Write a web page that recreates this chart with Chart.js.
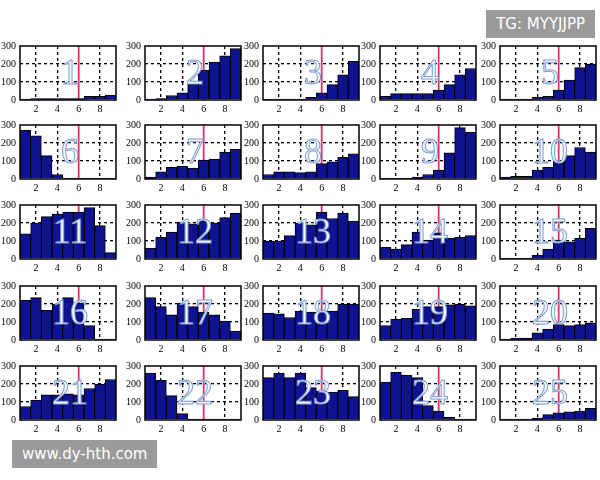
<!DOCTYPE html>
<html><head><meta charset="utf-8">
<script src="https://cdn.jsdelivr.net/npm/chart.js@4"></script>
<style>
body{margin:0;width:600px;height:480px;background:#fff;position:relative;overflow:hidden}
.c{position:absolute}
.num{position:absolute;font-family:'Liberation Serif','DejaVu Serif',serif;font-size:36px;color:#f4f8ff;-webkit-text-stroke:1px #7f9ccf;pointer-events:none;text-align:center;width:90px;line-height:40px}
.wm{position:absolute;background:#9a9a9a;color:#fff;font-family:"DejaVu Sans",sans-serif;font-size:15px;line-height:28px;padding:0 10px}
</style></head><body>
<script>
const labels = ['1','2','3','4','5','6','7','8','9'];
const series = [
  [5,8,8,8,8,8,20,20,28],
  [5,8,25,40,90,165,210,245,285],
  [3,5,5,5,15,40,85,140,215],
  [20,35,35,35,35,55,85,140,175],
  [5,5,5,15,20,55,110,180,200],
  [270,240,130,25,5,5,5,5,5],
  [10,40,65,70,60,105,110,150,165],
  [25,40,40,35,40,85,95,120,140],
  [5,5,5,10,25,50,145,285,260],
  [10,15,15,50,65,100,130,175,150],
  [140,200,235,250,260,260,285,185,35],
  [60,120,150,205,195,210,200,230,255],
  [100,100,130,200,190,260,225,255,210],
  [65,55,80,150,105,145,115,120,130],
  [5,5,5,20,55,105,95,115,170],
  [220,235,165,200,235,205,80,5,5],
  [235,185,140,205,185,155,140,105,50],
  [150,145,125,160,155,155,160,200,200],
  [80,115,120,170,185,185,195,200,190],
  [5,10,10,40,60,85,80,85,95],
  [75,110,140,140,145,140,175,200,225],
  [260,220,135,35,5,5,5,5,5],
  [235,260,235,260,180,160,155,165,130],
  [210,265,250,235,80,50,15,5,5],
  [5,5,5,10,30,40,45,50,65]
];
const yTicks = [0,100,200,300];
const colLeft = [25,150,268,385,505];
const rowTop = [42,121,201,282,362];
const plotW = 90, plotH = 60;
const tickFont = { family: "'Liberation Serif', 'DejaVu Serif', serif", size: 10 };

const frame = {
  id: 'frame',
  beforeDatasetsDraw(chart) {
    // red marker line at x = 6
    const a = chart.chartArea, g = chart.ctx;
    const x = chart.scales.x.getPixelForValue(5);
    g.save(); g.strokeStyle = '#e0306a'; g.lineWidth = 1.8;
    g.beginPath(); g.moveTo(x, a.top); g.lineTo(x, a.bottom); g.stroke();
    g.restore();
  },
  afterDraw(chart) {
    const a = chart.chartArea, g = chart.ctx;
    g.save(); g.strokeStyle = '#000'; g.lineWidth = 1.5;
    g.strokeRect(a.left, a.top, a.right - a.left, a.bottom - a.top);
    g.restore();
  }
};

series.forEach((vals, i) => {
  const r = Math.floor(i / 5), c = i % 5;
  const padL = 28, padB = 16, padT = 6;
  const cv = document.createElement('canvas');
  cv.className = 'c';
  cv.style.left = (colLeft[c] - padL) + 'px';
  cv.style.top = (rowTop[r] - padT) + 'px';
  cv.style.width = (plotW + padL + 3) + 'px';
  cv.style.height = (plotH + padT + padB) + 'px';
  document.body.appendChild(cv);

  const n = document.createElement('div');
  n.className = 'num';
  n.textContent = i + 1;
  n.style.left = colLeft[c] + 'px';
  n.style.top = (rowTop[r] + 10) + 'px';
  document.body.appendChild(n);

  new Chart(cv, {
    type: 'bar',
    data: { labels: labels, datasets: [{ data: vals, backgroundColor: '#10138f', borderColor: '#000', borderWidth: 1, barPercentage: 1, categoryPercentage: 1 }] },
    options: {
      responsive: false, animation: false,
      layout: { padding: { top: padT, right: 2 } },
      plugins: { legend: { display: false }, tooltip: { enabled: false } },
      scales: {
        x: {
          grid: {
            offset: false, drawTicks: false,
            color: ctx => (ctx.index % 2 === 1 && ctx.index !== 5) ? '#000' : 'rgba(0,0,0,0)',
            lineWidth: 1.3
          },
          border: { display: false, dash: [3, 3] },
          ticks: {
            font: tickFont, color: '#000', maxRotation: 0, autoSkip: false, padding: 3,
            callback: (v, idx) => (idx % 2 === 1 ? labels[idx] : '')
          }
        },
        y: {
          min: 0, max: 300,
          afterBuildTicks: ax => { ax.ticks = yTicks.map(v => ({ value: v })); },
          grid: { drawTicks: false, color: ctx => (ctx.tick.value === 100 || ctx.tick.value === 200) ? '#000' : 'rgba(0,0,0,0)', lineWidth: 1.3 },
          border: { display: false, dash: [3, 3] },
          ticks: { font: tickFont, color: '#000', padding: 4, autoSkip: false }
        }
      }
    },
    plugins: [frame]
  });
});
</script>
<div class="wm" style="right:5px;top:10px">TG: MYYJJPP</div>
<div class="wm" style="left:12px;top:440px">www.dy-hth.com</div>
</body></html>
